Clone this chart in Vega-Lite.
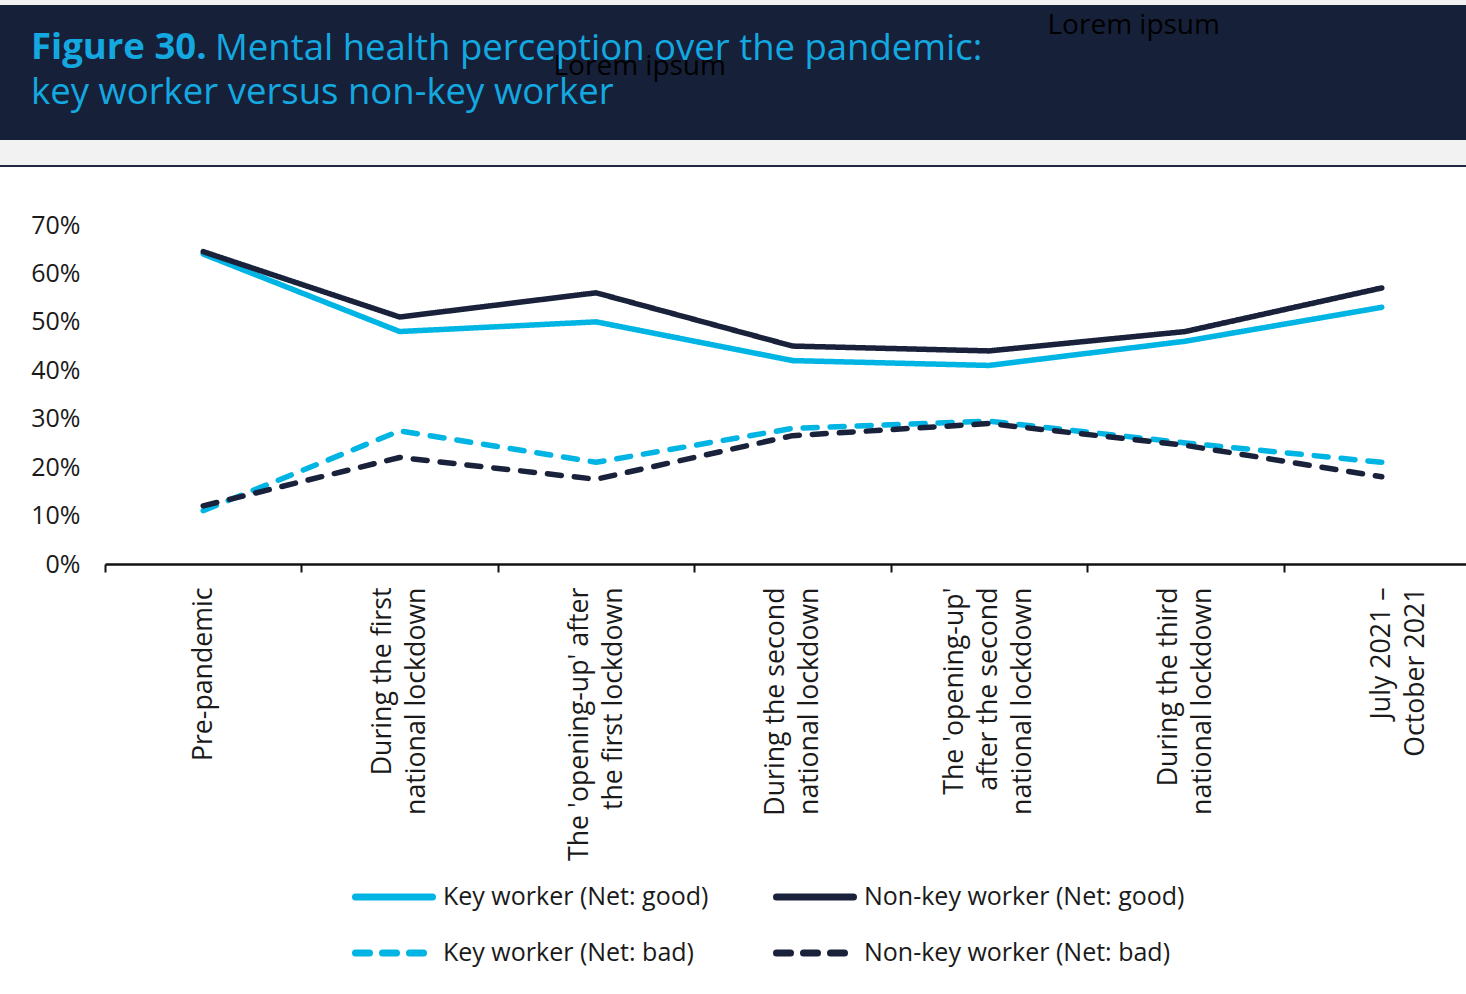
{
  "$schema": "https://vega.github.io/schema/vega-lite/v6.json",
  "padding": {"left": -13, "top": 0, "right": 0, "bottom": 0},
  "background": "white",
  "spacing": 0,
  "align": "none",
  "config": {"font": "Open Sans", "view": {"stroke": null}},
  "title": {"text": "Mental health perception over the pandemic:", "anchor": "start", "frame": "bounds", "dx": 228, "offset": -67, "fontSize": 36.5, "font": "Open Sans", "fontWeight": "normal", "color": "#14a8e0"},
  "vconcat": [
    {"width": 1466, "height": 5, "view": {"fill": "#f2f2f2", "stroke": null}, "data": {"values": []}, "mark": "point"},
    {
      "width": 1466, "height": 135,
      "view": {"fill": "#172039", "stroke": null},
      "title": {"text": "Figure 30.", "subtitle": "key worker versus non-key worker", "anchor": "start", "frame": "group", "dx": 31, "offset": -106.5, "font": "Open Sans", "fontSize": 36.5, "fontWeight": "bold", "color": "#14a8e0", "subtitleFont": "Open Sans", "subtitleFontSize": 36.5, "subtitleFontWeight": "normal", "subtitleColor": "#14a8e0", "subtitlePadding": 8.5},
      "data": {"values": []},
      "mark": "point",
      "encoding": {
        "x": {"field": "u", "type": "quantitative", "scale": {"domain": [0, 1]}, "axis": {"orient": "top", "title": "Lorem ipsum", "labels": false, "ticks": false, "domain": false, "grid": false, "minExtent": 0, "maxExtent": 0, "titleX": 1047, "titleY": 28, "titleAlign": "left", "titleBaseline": "alphabetic", "titleFont": "Open Sans", "titleFontSize": 28, "titleFontWeight": "normal", "titleColor": "#000000"}},
        "y": {"field": "v", "type": "quantitative", "scale": {"domain": [0, 1]}, "axis": {"title": "Lorem ipsum", "titleAngle": 0, "labels": false, "ticks": false, "domain": false, "grid": false, "minExtent": 0, "maxExtent": 0, "titlePadding": 0, "titleX": 553, "titleY": 69.5, "titleAlign": "left", "titleBaseline": "alphabetic", "titleFont": "Open Sans", "titleFontSize": 28, "titleFontWeight": "normal", "titleColor": "#000000"}}
      }
    },
    {"width": 1466, "height": 25, "view": {"fill": "#f2f2f2", "stroke": null}, "data": {"values": []}, "mark": "point"},
    {"width": 1466, "height": 2, "view": {"fill": "#1f2840", "stroke": null}, "data": {"values": []}, "mark": "point"},
    {"width": 1466, "height": 45.5, "view": {"stroke": null}, "data": {"values": []}, "mark": "point"},
    {
      "width": 1466, "height": 339,
      "data": {"values": [
        {"period": "Pre-pandemic", "series": "Key worker (Net: good)", "value": 0.64},
        {"period": "During the first|national lockdown", "series": "Key worker (Net: good)", "value": 0.48},
        {"period": "The 'opening-up' after|the first lockdown", "series": "Key worker (Net: good)", "value": 0.50},
        {"period": "During the second|national lockdown", "series": "Key worker (Net: good)", "value": 0.42},
        {"period": "The 'opening-up'|after the second|national lockdown", "series": "Key worker (Net: good)", "value": 0.41},
        {"period": "During the third|national lockdown", "series": "Key worker (Net: good)", "value": 0.46},
        {"period": "|July 2021 –|October 2021", "series": "Key worker (Net: good)", "value": 0.53},
        {"period": "Pre-pandemic", "series": "Key worker (Net: bad)", "value": 0.11},
        {"period": "During the first|national lockdown", "series": "Key worker (Net: bad)", "value": 0.275},
        {"period": "The 'opening-up' after|the first lockdown", "series": "Key worker (Net: bad)", "value": 0.21},
        {"period": "During the second|national lockdown", "series": "Key worker (Net: bad)", "value": 0.28},
        {"period": "The 'opening-up'|after the second|national lockdown", "series": "Key worker (Net: bad)", "value": 0.295},
        {"period": "During the third|national lockdown", "series": "Key worker (Net: bad)", "value": 0.25},
        {"period": "|July 2021 –|October 2021", "series": "Key worker (Net: bad)", "value": 0.21},
        {"period": "Pre-pandemic", "series": "Non-key worker (Net: good)", "value": 0.645},
        {"period": "During the first|national lockdown", "series": "Non-key worker (Net: good)", "value": 0.51},
        {"period": "The 'opening-up' after|the first lockdown", "series": "Non-key worker (Net: good)", "value": 0.56},
        {"period": "During the second|national lockdown", "series": "Non-key worker (Net: good)", "value": 0.45},
        {"period": "The 'opening-up'|after the second|national lockdown", "series": "Non-key worker (Net: good)", "value": 0.44},
        {"period": "During the third|national lockdown", "series": "Non-key worker (Net: good)", "value": 0.48},
        {"period": "|July 2021 –|October 2021", "series": "Non-key worker (Net: good)", "value": 0.57},
        {"period": "Pre-pandemic", "series": "Non-key worker (Net: bad)", "value": 0.12},
        {"period": "During the first|national lockdown", "series": "Non-key worker (Net: bad)", "value": 0.22},
        {"period": "The 'opening-up' after|the first lockdown", "series": "Non-key worker (Net: bad)", "value": 0.175},
        {"period": "During the second|national lockdown", "series": "Non-key worker (Net: bad)", "value": 0.265},
        {"period": "The 'opening-up'|after the second|national lockdown", "series": "Non-key worker (Net: bad)", "value": 0.29},
        {"period": "During the third|national lockdown", "series": "Non-key worker (Net: bad)", "value": 0.245},
        {"period": "|July 2021 –|October 2021", "series": "Non-key worker (Net: bad)", "value": 0.18}
      ]},
      "mark": {"type": "line", "strokeWidth": 5.5, "strokeCap": "round", "strokeJoin": "round"},
      "encoding": {
        "x": {"field": "period", "type": "nominal", "sort": null, "bandPosition": 0.5,
          "scale": {"type": "band", "paddingInner": 0, "paddingOuter": 0, "range": [105, 1480]},
          "axis": {"title": null, "labelExpr": "split(datum.label, '|')", "labelAngle": -90, "labelAlign": "right", "labelBaseline": "middle", "labelFont": "Open Sans", "labelFontSize": 26.7, "labelColor": "#1a1a1a", "labelLineHeight": 34, "labelPadding": 15, "labelLimit": 500, "labelOverlap": false,
            "labelOffset": {"condition": [{"test": "length(split(datum.label, '|')) == 2", "value": -17}, {"test": "length(split(datum.label, '|')) == 3", "value": -34}], "value": 0},
            "tickBand": "extent", "tickSize": 8, "tickWidth": 2, "tickColor": "#111111", "domainColor": "#111111", "domainWidth": 2.5, "grid": false}},
        "y": {"field": "value", "type": "quantitative", "scale": {"domain": [0, 0.7]},
          "axis": {"title": null, "offset": -105, "values": [0, 0.1, 0.2, 0.3, 0.4, 0.5, 0.6, 0.7], "format": ".0%", "domain": false, "ticks": false, "grid": false, "labelFont": "Open Sans", "labelFontSize": 25, "labelColor": "#1a1a1a", "labelPadding": 25, "minExtent": 0, "maxExtent": 0}},
        "color": {"field": "series", "type": "nominal",
          "scale": {"domain": ["Key worker (Net: good)", "Non-key worker (Net: good)", "Key worker (Net: bad)", "Non-key worker (Net: bad)"], "range": ["#00b4e4", "#19213b", "#00b4e4", "#19213b"]},
          "legend": {"title": null, "orient": "none", "legendX": 352, "legendY": 855, "columns": 2, "direction": "horizontal", "symbolType": "stroke", "symbolSize": 5929, "symbolStrokeWidth": 7, "labelFont": "Open Sans", "labelFontSize": 25, "labelColor": "#1a1a1a", "labelOffset": 7, "columnPadding": 53, "rowPadding": -34, "labelLimit": 500, "padding": 0, "encode": {"symbols": {"update": {"strokeCap": {"value": "round"}}}}}},
        "strokeDash": {"field": "series", "type": "nominal",
          "scale": {"domain": ["Key worker (Net: good)", "Non-key worker (Net: good)", "Key worker (Net: bad)", "Non-key worker (Net: bad)"], "range": [[1, 0], [1, 0], [14, 13], [14, 13]]},
          "legend": {"title": null, "orient": "none", "legendX": 352, "legendY": 855, "columns": 2, "direction": "horizontal", "symbolType": "stroke", "symbolSize": 5929, "symbolStrokeWidth": 7, "labelFont": "Open Sans", "labelFontSize": 25, "labelColor": "#1a1a1a", "labelOffset": 7, "columnPadding": 53, "rowPadding": -34, "labelLimit": 500, "padding": 0, "encode": {"symbols": {"update": {"strokeCap": {"value": "round"}}}}}}
      }
    }
  ]
}
